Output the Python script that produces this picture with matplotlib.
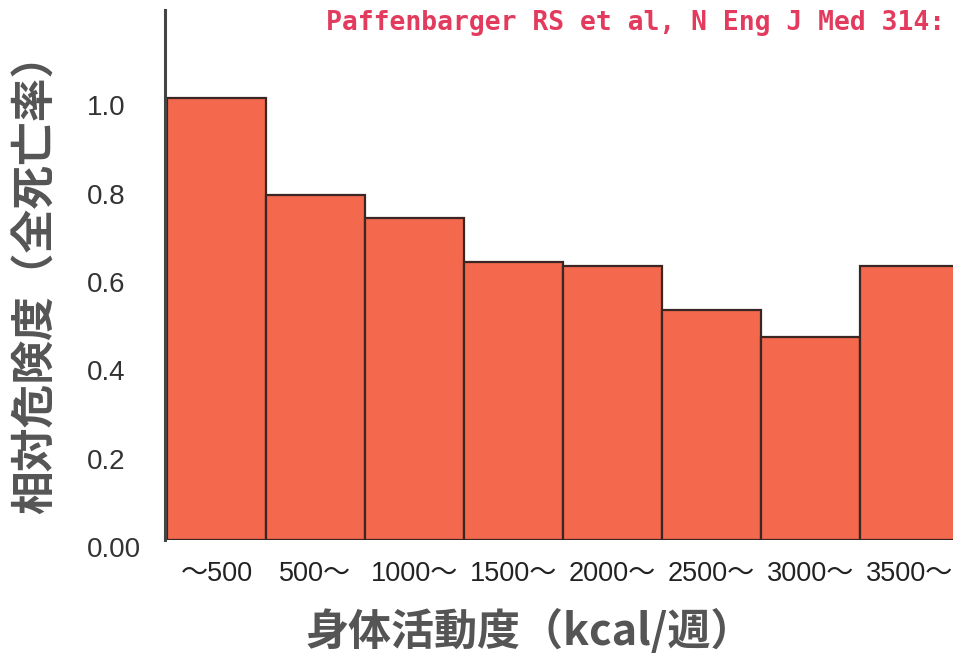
import matplotlib.pyplot as plt
from matplotlib.transforms import ScaledTranslation

# relative risk of all-cause mortality by weekly energy expenditure
categories = ["～500", "500～", "1000～", "1500～", "2000～", "2500～", "3000～", "3500～"]
relative_risk = [1.00, 0.78, 0.73, 0.63, 0.62, 0.52, 0.46, 0.62]
y_ticks = [0.0, 0.2, 0.4, 0.6, 0.8, 1.0]
y_tick_labels = ["0.00", "0.2", "0.4", "0.6", "0.8", "1.0"]

JP = ["Noto Sans CJK JP", "DejaVu Sans"]
NUM = ["Liberation Sans", "Noto Sans CJK JP"]

fig = plt.figure(figsize=(9.54, 6.54), dpi=100)
ax = fig.add_axes([0.173, 0.174, 0.827, 0.811])

x = list(range(len(categories)))
ax.bar(x, relative_risk, width=1.0, color="#F4684E", edgecolor="#3a2622", linewidth=1.6)

ax.set_xlim(-0.52, 7.45)
ax.set_ylim(0, 1.2)
for side in ("top", "right", "bottom"):
    ax.spines[side].set_visible(False)
ax.spines["left"].set_color("#444444")
ax.spines["left"].set_linewidth(2.2)

ax.set_xticks(x)
ax.set_xticklabels(categories, fontsize=19.5, family=NUM, color="#222222")
ax.tick_params(axis="x", length=0, pad=15)

ax.set_yticks(y_ticks)
ax.set_yticklabels(y_tick_labels, fontsize=20, family=NUM, color="#333333", ha="left")
ax.tick_params(axis="y", length=0, pad=56)
shift = ScaledTranslation(0, -5 / 72, fig.dpi_scale_trans)
for lbl in ax.get_yticklabels():
    lbl.set_transform(lbl.get_transform() + shift)

fig.text(0.037, 0.582, "相対危険度（全死亡率）", rotation=90, ha="center", va="center",
         fontsize=31.5, fontweight="bold", family=JP, color="#555555")
fig.text(0.555, 0.035, "身体活動度（kcal/週）", ha="center", va="center",
         fontsize=31, fontweight="bold", family=JP, color="#555555")

fig.text(0.342, 0.965, "Paffenbarger RS et al, N Eng J Med 314:", ha="left", va="center",
         fontsize=19, fontweight="bold", family="DejaVu Sans Mono", color="#E23B5E")

fig.savefig("out.png", dpi=100)
